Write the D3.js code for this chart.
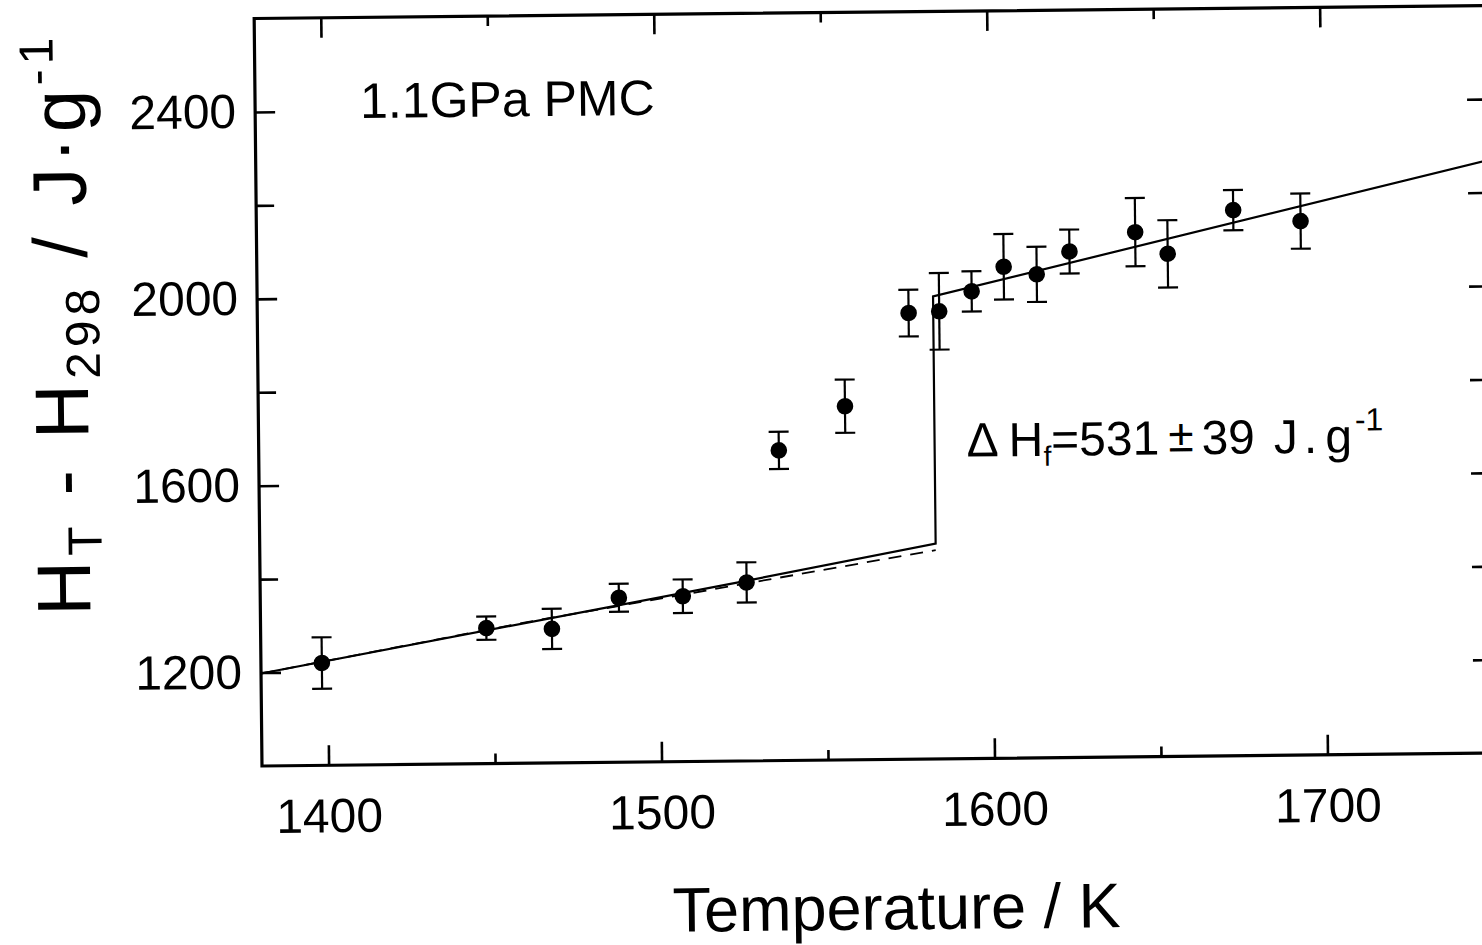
<!DOCTYPE html>
<html><head><meta charset="utf-8">
<script src="https://cdn.jsdelivr.net/npm/d3@7"></script>
<style>
body{margin:0;background:#fff;}
svg{display:block;background:#fff;}
text{font-family:"Liberation Sans",Arial,Helvetica,sans-serif;fill:#000;}
</style></head><body>
<svg id="chart" width="1482" height="945"></svg>
<script>
// ---- data ----
const temperature = [1398.3,1447.8,1467.5,1487.7,1506.9,1526.1,1536.2,1556.2,1575.6,1584.8,1594.6,1604.3,1614.2,1624.1,1643.9,1653.6,1673.4,1693.6];
const enthalpy    = [1219,1290,1287,1352,1354,1382,1664,1757,1955,1958,2000,2052,2035,2083,2123,2076,2168,2143];
const errorBar    = [55,25,43,30,36,43,40,57,50,82,43,70,59,47,73,72,43,59];
const solidFitLowT  = [1380,1524,1583];
const solidFitLowH  = [1198,1383,1461];
const solidFitHighT = [1583,1750];
const solidFitHighH = [1990,2269];
const dashedFitT = [1380,1460,1583];
const dashedFitH = [1198,1302,1447];
const xMajorTicks = [1400,1500,1600,1700];
const xMinorTicks = [1450,1550,1650];
const yMajorTicks = [1200,1600,2000,2400];
const yMinorTicks = [1400,1800,2200];
const xDomain = [1380,1750];
const yDomain = [1000,2600];

// ---- drawing ----
const svg = d3.select('#chart');
const x = d3.scaleLinear().domain(xDomain).range([262,1494]);
const y = d3.scaleLinear().domain(yDomain).range([766,18.5]);
const root = svg.append('g').attr('transform','rotate(-0.6 262 766)');

root.append('clipPath').attr('id','clip').append('rect')
  .attr('x',x(xDomain[0])).attr('y',y(yDomain[1]))
  .attr('width',x(xDomain[1])-x(xDomain[0])).attr('height',y(yDomain[0])-y(yDomain[1]));

function styleAxis(g){
  g.select('.domain').remove();
  g.selectAll('line').attr('stroke','#000').attr('stroke-width',2.6);
  g.selectAll('text').attr('font-size',48).attr('font-family','"Liberation Sans",Arial,sans-serif').attr('fill','#000');
}
const fmt = d3.format('d');
// bottom
root.append('g').attr('transform',`translate(0,${y(yDomain[0])})`)
  .call(d3.axisBottom(x).tickValues(xMajorTicks).tickSize(-20).tickSizeOuter(0).tickPadding(33).tickFormat(fmt)).call(styleAxis);
root.append('g').attr('transform',`translate(0,${y(yDomain[0])})`)
  .call(d3.axisBottom(x).tickValues(xMinorTicks).tickSize(-10).tickSizeOuter(0).tickFormat('')).call(styleAxis);
// top
root.append('g').attr('transform',`translate(0,${y(yDomain[1])})`)
  .call(d3.axisTop(x).tickValues(xMajorTicks).tickSize(-20).tickSizeOuter(0).tickFormat('')).call(styleAxis);
root.append('g').attr('transform',`translate(0,${y(yDomain[1])})`)
  .call(d3.axisTop(x).tickValues(xMinorTicks).tickSize(-10).tickSizeOuter(0).tickFormat('')).call(styleAxis);
// left
root.append('g').attr('transform',`translate(${x(xDomain[0])},0)`)
  .call(d3.axisLeft(y).tickValues(yMajorTicks).tickSize(-20).tickSizeOuter(0).tickPadding(19).tickFormat(fmt)).call(styleAxis);
root.append('g').attr('transform',`translate(${x(xDomain[0])},0)`)
  .call(d3.axisLeft(y).tickValues(yMinorTicks).tickSize(-18).tickSizeOuter(0).tickFormat('')).call(styleAxis);
// right
root.append('g').attr('transform',`translate(${x(xDomain[1])},0)`)
  .call(d3.axisRight(y).tickValues(yMajorTicks.concat(yMinorTicks)).tickSize(-20).tickSizeOuter(0).tickFormat('')).call(styleAxis);

// frame
root.append('rect')
  .attr('x',x(xDomain[0])).attr('y',y(yDomain[1]))
  .attr('width',x(xDomain[1])-x(xDomain[0])).attr('height',y(yDomain[0])-y(yDomain[1]))
  .attr('fill','none').attr('stroke','#000').attr('stroke-width',3.2);

const plot = root.append('g').attr('clip-path','url(#clip)');
const line = d3.line().x(d=>x(d[0])).y(d=>y(d[1]));

// solid fit with melting step
const solidPts = solidFitLowT.map((t,i)=>[t,solidFitLowH[i]])
  .concat(solidFitHighT.map((t,i)=>[t,solidFitHighH[i]]));
plot.append('path').datum(solidPts).attr('d',line)
  .attr('fill','none').attr('stroke','#000').attr('stroke-width',2.2);
// dashed fit
plot.append('path').datum(dashedFitT.map((t,i)=>[t,dashedFitH[i]])).attr('d',line)
  .attr('fill','none').attr('stroke','#000').attr('stroke-width',1.8).attr('stroke-dasharray','13,9');

// error bars
const pts = temperature.map((t,i)=>({t,h:enthalpy[i],e:errorBar[i]}));
const eb = plot.append('g').attr('stroke','#000').attr('stroke-width',2.2);
eb.selectAll('.v').data(pts).join('line')
  .attr('x1',d=>x(d.t)).attr('x2',d=>x(d.t)).attr('y1',d=>y(d.h-d.e)).attr('y2',d=>y(d.h+d.e));
eb.selectAll('.ct').data(pts).join('line')
  .attr('x1',d=>x(d.t)-10).attr('x2',d=>x(d.t)+10).attr('y1',d=>y(d.h+d.e)).attr('y2',d=>y(d.h+d.e));
eb.selectAll('.cb').data(pts).join('line')
  .attr('x1',d=>x(d.t)-10).attr('x2',d=>x(d.t)+10).attr('y1',d=>y(d.h-d.e)).attr('y2',d=>y(d.h-d.e));
plot.append('g').selectAll('circle').data(pts).join('circle')
  .attr('cx',d=>x(d.t)).attr('cy',d=>y(d.h)).attr('r',8.3).attr('fill','#000');

// annotations
root.append('text').attr('x',367).attr('y',119).attr('font-size',50).text('1.1GPa PMC');

const ann = root.append('text').attr('x',970).attr('y',464).attr('font-size',48);
ann.append('tspan').text('\u0394');
ann.append('tspan').attr('dx',10).text('H');
ann.append('tspan').attr('font-size',28).attr('dy',10).text('f');
ann.append('tspan').attr('dy',-10).text('=531');
ann.append('tspan').attr('font-size',46).attr('dx',9).attr('dy',-3).text('\u00B1');
ann.append('tspan').attr('dy',3).attr('dx',8).text('39');
ann.append('tspan').attr('dx',19).text('J');
ann.append('tspan').attr('dx',6).text('.');
ann.append('tspan').attr('dx',8).text('g');
ann.append('tspan').attr('font-size',32).attr('dx',3).attr('dy',-22).text('-1');

// axis titles
root.append('text').attr('x',895).attr('y',936).attr('text-anchor','middle').attr('font-size',63).text('Temperature / K');

const yt = root.append('text').attr('transform','translate(92,322) rotate(-90)')
  .attr('text-anchor','middle').attr('font-size',76).attr('letter-spacing',5);
yt.append('tspan').text('H');
yt.append('tspan').attr('font-size',48).attr('dy',12).text('T');
yt.append('tspan').attr('dy',-12).text(' - H');
yt.append('tspan').attr('font-size',48).attr('dy',12).text('298');
yt.append('tspan').attr('dy',-12).text(' / J\u00B7g');
yt.append('tspan').attr('font-size',48).attr('dy',-32).text('-1');
</script>
</body></html>
